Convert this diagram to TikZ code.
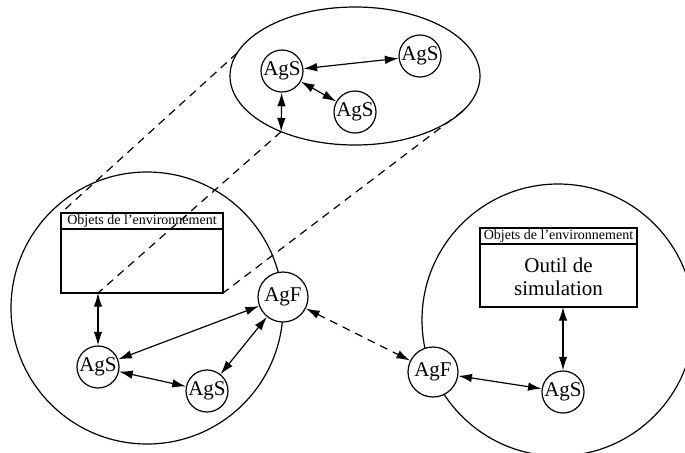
\documentclass[tikz,border=0pt]{standalone}
\usepackage{fontspec}
\setmainfont{Liberation Serif}
\usetikzlibrary{arrows.meta,shapes.geometric}

\begin{document}
\begin{tikzpicture}[x=0.5pt, y=-0.5pt,
  agent/.style={circle, draw, fill=white, line width=0.6pt, inner sep=0pt,
    font=\fontsize{10.5}{12}\selectfont},
  ags/.style={agent, minimum size=21pt},
  agf/.style={agent, minimum size=25pt},
  zone/.style={draw, line width=0.6pt, inner sep=0pt, outer sep=0pt},
  envbox/.style={draw, line width=0.6pt, inner sep=0pt, outer sep=0pt},
  hdr/.style={draw, line width=0.6pt, anchor=north west, inner sep=0pt,
    outer sep=0pt, minimum height=8pt, font=\fontsize{7}{8}\selectfont},
  arr/.style={{Latex[length=2.4mm,width=1.5mm]}-{Latex[length=2.4mm,width=1.5mm]},
    line width=0.6pt},
  proj/.style={dash pattern=on 4pt off 3pt, line width=0.6pt}
]
  \useasboundingbox (0,0) rectangle (685,452);
  \clip (0,0) rectangle (685,452);

  \node[zone, ellipse, minimum width=125pt, minimum height=69pt] (grp) at (355,76) {};
  \node[zone, circle, minimum size=136pt] (siteL) at (147,308) {};
  \node[zone, circle, minimum size=136pt] (siteR) at (558,320) {};

  \node[envbox, minimum width=81pt, minimum height=40pt] (envL) at (142,253) {};
  \node[hdr, minimum width=81pt] (hdrL) at (envL.north west) {Objets de l'environnement};
  \node[envbox, minimum width=78.5pt, minimum height=39.5pt] (envR) at (558.5,267.5) {};
  \node[hdr, minimum width=78.5pt] (hdrR) at (envR.north west) {Objets de l'environnement};
  \node[font=\fontsize{10.5}{11.5}\selectfont, align=center] (outil) at (558.5,277)
    {Outil de\\simulation};

  \node[ags] (s1) at (282,71) {AgS};
  \node[ags] (s2) at (420,56) {AgS};
  \node[ags] (s3) at (355,112) {AgS};
  \node[ags] (sL) at (98,367) {AgS};
  \node[ags] (sL2) at (207,391) {AgS};
  \node[agf] (fL) at (283,297) {AgF};
  \node[agf] (fR) at (433,372) {AgF};
  \node[ags] (sR) at (563,392) {AgS};

  \draw[proj] (grp.169.2) -- (envL.north west);
  \draw[proj] (grp.217.5) -- (sL |- envL.south);
  \draw[proj] (grp.-18.4) -- (envL.south east);

  \draw[arr] (s1) -- (s2);
  \draw[arr] (s1) -- (s3);
  \draw[arr] (s1) -- (grp.217.5);
  \draw[arr] (sL |- envL.south) -- (sL);
  \draw[arr] (sL) -- (fL);
  \draw[arr] (sL) -- (sL2);
  \draw[arr] (sL2) -- (fL);
  \draw[arr, proj] (fL) -- (fR);
  \draw[arr] (fR) -- (sR);
  \draw[arr] (sR |- envR.south) -- (sR);
\end{tikzpicture}
\end{document}
